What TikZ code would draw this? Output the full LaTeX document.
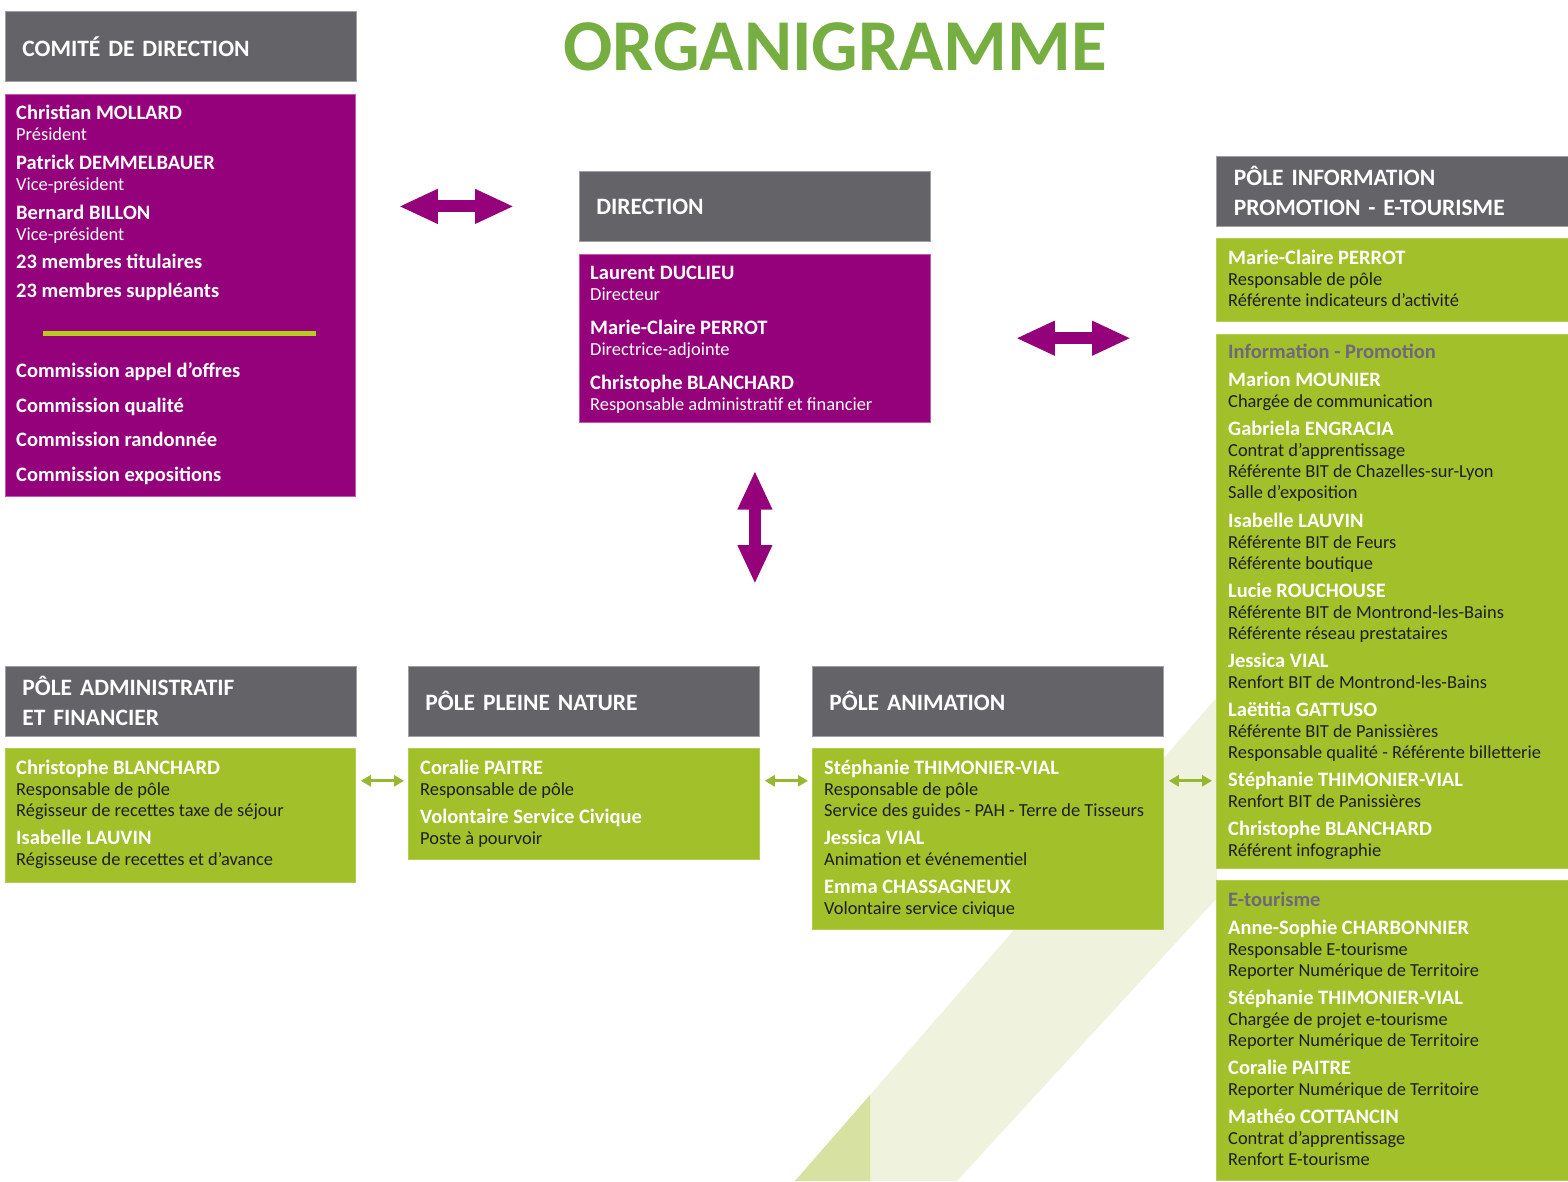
\documentclass[tikz,border=0pt]{standalone}
\usepackage{fontspec}
\setmainfont{Carlito}
\usetikzlibrary{positioning,arrows.meta}
\definecolor{headgrey}{RGB}{100,99,104}
\definecolor{headline}{RGB}{160,160,164}
\definecolor{orgviolet}{RGB}{149,0,123}
\definecolor{violetline}{RGB}{190,90,170}
\definecolor{orggreen}{RGB}{162,192,42}
\definecolor{greenline}{RGB}{180,205,80}
\definecolor{arrowgreen}{RGB}{150,184,48}
\definecolor{limebar}{RGB}{181,204,26}
\definecolor{rolegrey}{RGB}{30,30,30}
\definecolor{secgrey}{RGB}{108,106,122}
\definecolor{titlegreen}{RGB}{118,174,66}
\definecolor{paleband}{RGB}{239,243,221}
\definecolor{darkband}{RGB}{214,225,162}
\newcommand\nm[1]{{\fontsize{20.5}{21}\selectfont\bfseries\color{white}#1}}
\newcommand\sect[1]{{\fontsize{20.5}{21}\selectfont\bfseries\color{secgrey}#1}}
\newcommand\body{\fontsize{18.4}{21}\selectfont\lineskiplimit=-20pt\raggedright\leavevmode}
\newcommand\headfont{\fontsize{23.5}{30}\selectfont\bfseries\spaceskip 0.17em\relax}
\begin{document}
\begin{tikzpicture}[x=1pt, y=-1pt,
    head/.style={anchor=north west, fill=headgrey, draw=headline, line width=.8pt,
      minimum width=351pt, minimum height=70pt, inner xsep=17pt, text width=317pt,
      align=left, text=white, font=\headfont},
    pbox/.style={fill=orgviolet, draw=violetline, line width=.8pt, minimum width=351pt, inner sep=0pt},
    gbox/.style={fill=orggreen, draw=greenline, line width=.8pt, minimum width=351pt, inner sep=0pt},
    txt/.style={anchor=base west, inner sep=0pt, text=rolegrey},
    bigarrow/.style={draw=orgviolet, line width=12pt,
      arrows={Triangle[length=39pt,width=32pt]-Triangle[length=39pt,width=32pt]}},
    smallarrow/.style={draw=arrowgreen, line width=3pt,
      arrows={Triangle[length=10pt,width=11pt]-Triangle[length=10pt,width=11pt]}}]
  \useasboundingbox (0,0) rectangle (1568,1181);
  \fill[paleband] (795,1181) -- (1217,697) -- (1217,898) -- (957,1181) -- cycle;
  \fill[darkband] (795,1181) -- (870,1095) -- (870,1181) -- cycle;

  \node[font=\fontsize{73}{80}\selectfont\bfseries, text=titlegreen] (title) at (835,47) {ORGANIGRAMME};

  \node[head, minimum width=350pt] (comitehead) at (5,11) {COMITÉ DE DIRECTION};
  \node[pbox, minimum width=350pt, minimum height=402pt, below=12pt of comitehead.south west, anchor=north west] (comite) {};
  \node[txt, text=white] (comitetxt) at ([shift={(11,26)}]comite.north west) {\parbox[t]{330pt}{\body
    \nm{Christian MOLLARD}\\ Président\\[8pt]
    \nm{Patrick DEMMELBAUER}\\ Vice-président\\[8pt]
    \nm{Bernard BILLON}\\ Vice-président\\[7pt]
    \nm{23 membres titulaires}\\[8pt]
    \nm{23 membres suppléants}}};
  \draw[limebar, line width=5pt] (43,333) -- (316,333);
  \node[txt, text=white] (commtxt) at ([shift={(11,284)}]comite.north west) {\parbox[t]{330pt}{\body
    \nm{Commission appel d’offres}\\[13.5pt]
    \nm{Commission qualité}\\[13.5pt]
    \nm{Commission randonnée}\\[13.5pt]
    \nm{Commission expositions}}};

  \node[head] (dirhead) at (579,171) {DIRECTION};
  \node[pbox, minimum height=168pt, below=12pt of dirhead.south west, anchor=north west] (dir) {};
  \node[txt, text=white] (dirtxt) at ([shift={(11,26)}]dir.north west) {\parbox[t]{330pt}{\body
    \nm{Laurent DUCLIEU}\\ Directeur\\[13pt]
    \nm{Marie-Claire PERROT}\\ Directrice-adjointe\\[13pt]
    \nm{Christophe BLANCHARD}\\ Responsable administratif et financier}};

  \node[head, minimum width=352pt] (infohead) at (1216,156) {PÔLE INFORMATION\\PROMOTION - E-TOURISME};
  \node[gbox, minimum width=352pt, minimum height=83pt, below=11pt of infohead.south west, anchor=north west] (info1) {};
  \node[txt] (info1txt) at ([shift={(12,27)}]info1.north west) {\parbox[t]{335pt}{\body
    \nm{Marie-Claire PERROT}\\ Responsable de pôle\\ Référente indicateurs d’activité}};
  \node[gbox, minimum width=352pt, minimum height=534pt, below=12pt of info1.south west, anchor=north west] (info2) {};
  \node[txt] (info2txt) at ([shift={(12,25)}]info2.north west) {\parbox[t]{335pt}{\body
    \sect{Information - Promotion}\\[7pt]
    \nm{Marion MOUNIER}\\ Chargée de communication\\[7pt]
    \nm{Gabriela ENGRACIA}\\ Contrat d’apprentissage\\ Référente BIT de Chazelles-sur-Lyon\\ Salle d’exposition\\[8pt]
    \nm{Isabelle LAUVIN}\\ Référente BIT de Feurs\\ Référente boutique\\[7pt]
    \nm{Lucie ROUCHOUSE}\\ Référente BIT de Montrond-les-Bains\\ Référente réseau prestataires\\[7pt]
    \nm{Jessica VIAL}\\ Renfort BIT de Montrond-les-Bains\\[7pt]
    \nm{Laëtitia GATTUSO}\\ Référente BIT de Panissières\\ Responsable qualité - Référente billetterie\\[7pt]
    \nm{Stéphanie THIMONIER-VIAL}\\ Renfort BIT de Panissières\\[7pt]
    \nm{Christophe BLANCHARD}\\ Référent infographie}};
  \node[gbox, minimum width=352pt, minimum height=300pt, below=12pt of info2.south west, anchor=north west] (info3) {};
  \node[txt] (info3txt) at ([shift={(12,26)}]info3.north west) {\parbox[t]{335pt}{\body
    \sect{E-tourisme}\\[7pt]
    \nm{Anne-Sophie CHARBONNIER}\\ Responsable E-tourisme\\ Reporter Numérique de Territoire\\[7pt]
    \nm{Stéphanie THIMONIER-VIAL}\\ Chargée de projet e-tourisme\\ Reporter Numérique de Territoire\\[7pt]
    \nm{Coralie PAITRE}\\ Reporter Numérique de Territoire\\[7pt]
    \nm{Mathéo COTTANCIN}\\ Contrat d’apprentissage\\ Renfort E-tourisme}};

  \node[head, minimum width=350pt] (adminhead) at (5,666) {PÔLE ADMINISTRATIF\\ET FINANCIER};
  \node[gbox, minimum width=350pt, minimum height=134pt, below=11pt of adminhead.south west, anchor=north west] (admin) {};
  \node[txt] (admintxt) at ([shift={(11,27)}]admin.north west) {\parbox[t]{335pt}{\body
    \nm{Christophe BLANCHARD}\\ Responsable de pôle\\ Régisseur de recettes taxe de séjour\\[7pt]
    \nm{Isabelle LAUVIN}\\ Régisseuse de recettes et d’avance}};

  \node[head] (naturehead) at (408,666) {PÔLE PLEINE NATURE};
  \node[gbox, minimum height=111pt, below=11pt of naturehead.south west, anchor=north west] (nature) {};
  \node[txt] (naturetxt) at ([shift={(12,27)}]nature.north west) {\parbox[t]{335pt}{\body
    \nm{Coralie PAITRE}\\ Responsable de pôle\\[7pt]
    \nm{Volontaire Service Civique}\\ Poste à pourvoir}};

  \node[head] (animhead) at (812,666) {PÔLE ANIMATION};
  \node[gbox, minimum height=181pt, below=11pt of animhead.south west, anchor=north west] (anim) {};
  \node[txt] (animtxt) at ([shift={(12,27)}]anim.north west) {\parbox[t]{335pt}{\body
    \nm{Stéphanie THIMONIER-VIAL}\\ Responsable de pôle\\ Service des guides - PAH - Terre de Tisseurs\\[7pt]
    \nm{Jessica VIAL}\\ Animation et événementiel\\[7pt]
    \nm{Emma CHASSAGNEUX}\\ Volontaire service civique}};

  \draw[bigarrow, shorten <=43pt, shorten >=65pt] (comite.east |- dirhead.west) -- (dirhead.west);
  \draw[bigarrow, shorten <=85pt, shorten >=85pt] (dir.east) -- (dir.east -| info2.west);
  \draw[bigarrow, shorten <=48pt, shorten >=82pt] (dir.south) -- (dir.south |- animhead.north);

  \coordinate (a1) at ([yshift=-33pt]admin.north east);
  \coordinate (a2) at ([yshift=-33pt]nature.north east);
  \coordinate (a3) at ([yshift=-33pt]anim.north east);
  \draw[smallarrow, shorten <=5pt, shorten >=4pt] (a1) -- (a1 -| nature.west);
  \draw[smallarrow, shorten <=5pt, shorten >=4pt] (a2) -- (a2 -| anim.west);
  \draw[smallarrow, shorten <=5pt, shorten >=4pt] (a3) -- (a3 -| info2.west);
\end{tikzpicture}
\end{document}
